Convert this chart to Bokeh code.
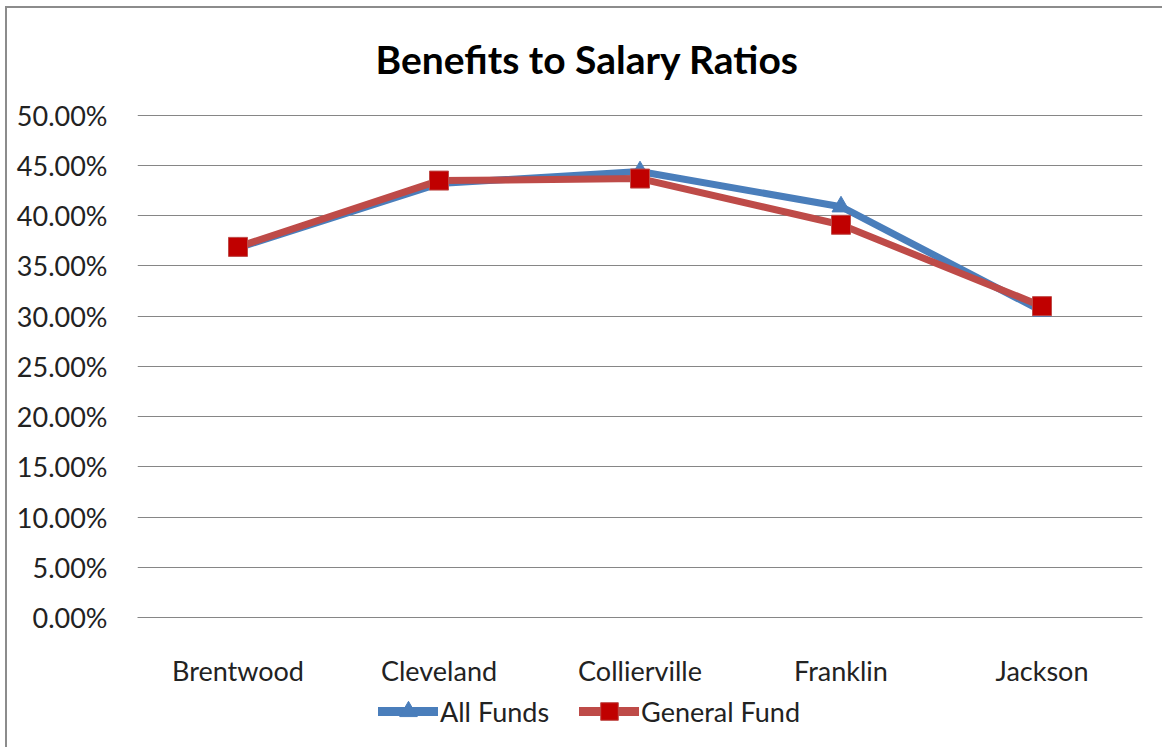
from bokeh.plotting import figure
from bokeh.layouts import column
from bokeh.models import (FactorRange, Range1d, FixedTicker, NumeralTickFormatter,
                          Legend, LegendItem, ColumnDataSource)
from bokeh.embed import file_html
from bokeh.resources import INLINE

cities = ["Brentwood", "Cleveland", "Collierville", "Franklin", "Jackson"]
all_funds = [0.368, 0.432, 0.444, 0.409, 0.305]
general_fund = [0.369, 0.435, 0.437, 0.391, 0.310]
y_ticks = [0.0, 0.05, 0.10, 0.15, 0.20, 0.25, 0.30, 0.35, 0.40, 0.45, 0.50]
title_text = "Benefits to Salary Ratios"
series_names = ["All Funds", "General Fund"]

FONT = "Lato"
BLUE = "#4A7EBB"
RED_LINE = "#BE4B48"
RED_MARK = "#C00000"

src = ColumnDataSource(dict(x=cities, a=all_funds, g=general_fund))

W = 1154
p = figure(x_range=FactorRange(*cities, range_padding=0), y_range=Range1d(0, 0.5008),
           width=W, height=689, output_backend="svg", toolbar_location=None,
           min_border_left=137, min_border_right=12, min_border_top=114, min_border_bottom=70)
p.outline_line_color = None
p.background_fill_color = "white"

p.title.text = title_text
p.title.align = "left"
p.title.offset = 238
p.title.text_font = FONT
p.title.text_font_style = "bold"
p.title.text_font_size = "39px"
p.title.text_color = "#000000"
p.title.standoff = 66

p.xgrid.grid_line_color = None
p.ygrid.grid_line_color = "#868686"
p.ygrid.grid_line_width = 1

p.yaxis.ticker = FixedTicker(ticks=y_ticks)
p.yaxis.formatter = NumeralTickFormatter(format="0.00%")
p.yaxis.axis_line_color = None
p.yaxis.major_tick_line_color = None
p.yaxis.minor_tick_line_color = None
p.yaxis.major_label_text_font = FONT
p.yaxis.major_label_text_font_size = "27px"
p.yaxis.major_label_text_color = "#222222"
p.yaxis.major_label_standoff = 24

p.xaxis.axis_line_color = "#868686"
p.xaxis.major_tick_line_color = None
p.xaxis.minor_tick_line_color = None
p.xaxis.major_label_text_font = FONT
p.xaxis.major_label_text_font_size = "27px"
p.xaxis.major_label_text_color = "#222222"
p.xaxis.major_label_standoff = 30

p.line("x", "a", source=src, line_color=BLUE, line_width=7)
p.scatter("x", "a", source=src, marker="triangle", size=18, fill_color=BLUE, line_color=BLUE)
p.line("x", "g", source=src, line_color=RED_LINE, line_width=7)
p.scatter("x", "g", source=src, marker="square", size=19, fill_color=RED_MARK, line_color=RED_LINE)

# legend strip below the chart (same series, drawn off-range so only the legend shows)
q = figure(x_range=FactorRange(*cities), y_range=Range1d(10, 11),
           width=W, height=50, output_backend="svg", toolbar_location=None,
           x_axis_type=None, y_axis_type=None,
           min_border_left=0, min_border_right=0, min_border_top=0, min_border_bottom=0)
q.outline_line_color = None
q.xgrid.grid_line_color = None
q.ygrid.grid_line_color = None
ql1 = q.line("x", "a", source=src, line_color=BLUE, line_width=9, line_cap="round")
qm1 = q.scatter("x", "a", source=src, marker="triangle", size=15, fill_color=BLUE, line_color=BLUE)
ql2 = q.line("x", "g", source=src, line_color=RED_LINE, line_width=9, line_cap="round")
qm2 = q.scatter("x", "g", source=src, marker="square", size=17, fill_color=RED_MARK, line_color=RED_LINE)

legend = Legend(items=[LegendItem(label=series_names[0], renderers=[ql1, qm1]),
                       LegendItem(label=series_names[1], renderers=[ql2, qm2])],
                orientation="horizontal", location=(241, 6),
                glyph_width=60, glyph_height=44, label_standoff=2, spacing=30,
                padding=0, margin=0, border_line_color=None, background_fill_alpha=0,
                label_text_font=FONT, label_text_font_size="27px",
                label_text_color="#222222")
q.add_layout(legend, "center")

layout = column(p, q, spacing=0)
layout.stylesheets = [
    ":host { position: relative; }",
    ":host::before { content: ''; position: absolute; left: 5px; top: 6px; right: -40px; bottom: -40px;"
    " border-top: 2px solid #8c8c8c; border-left: 2px solid #8c8c8c; z-index: 10; pointer-events: none; }",
]

open("out.html", "w").write(file_html(layout, INLINE))
